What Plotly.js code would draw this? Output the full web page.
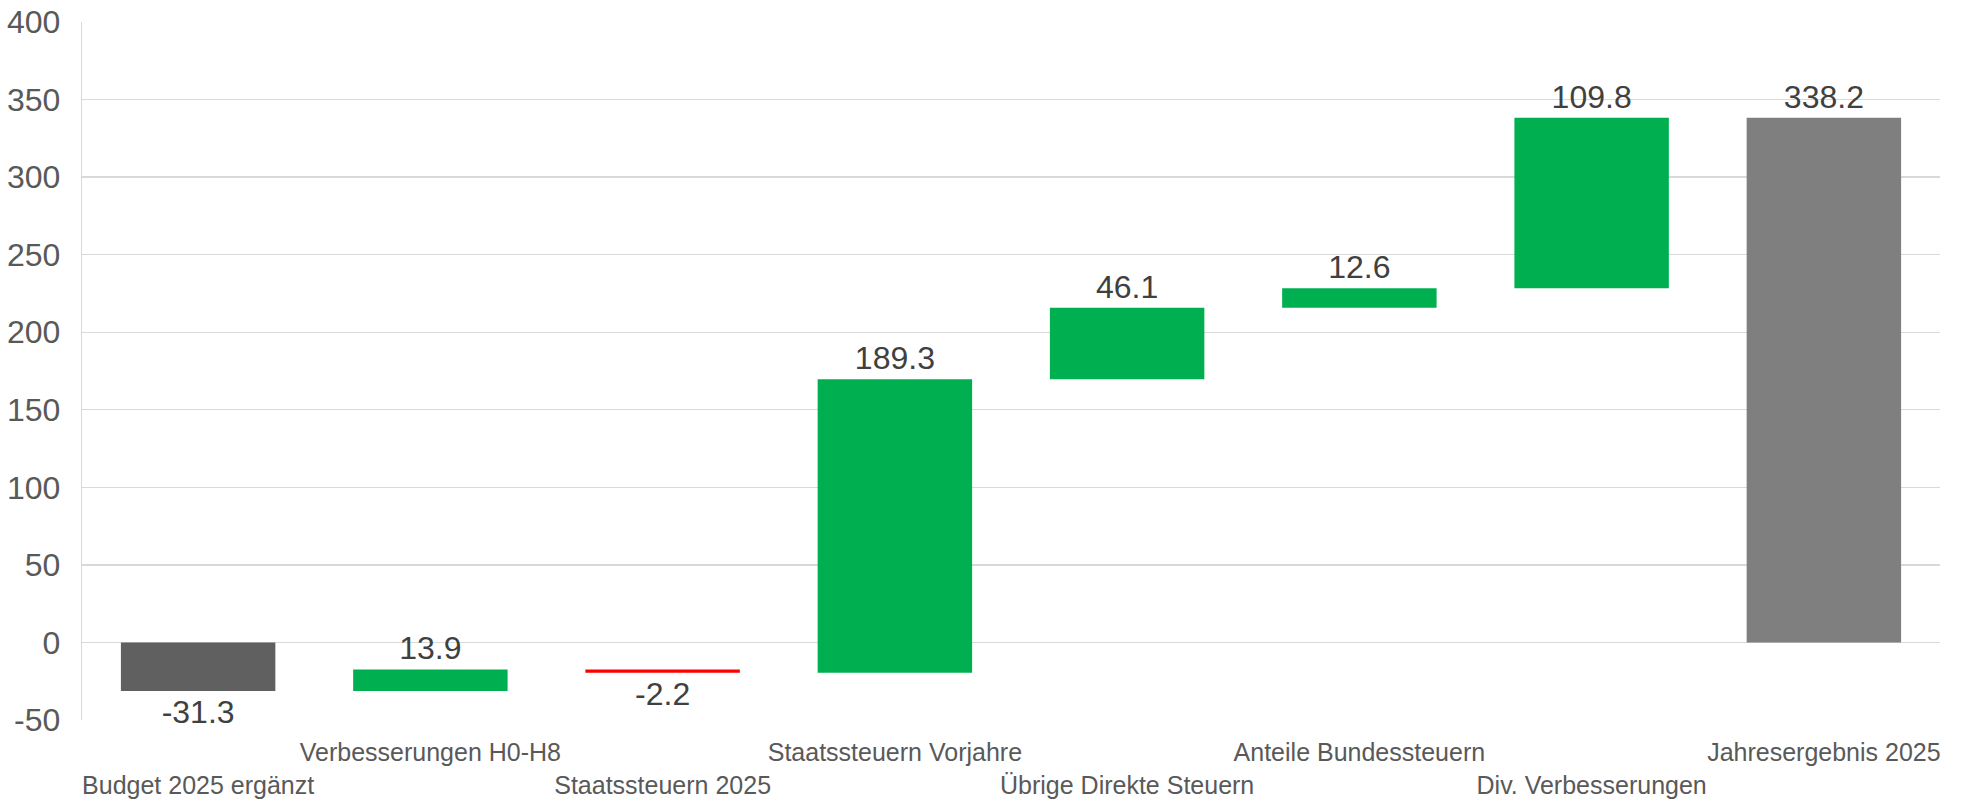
<!DOCTYPE html>
<html>
<head>
<meta charset="utf-8">
<script src="https://cdn.plot.ly/plotly-3.0.1.min.js"></script>
<style>html,body{margin:0;padding:0;background:#fff;}#chart{width:1961px;height:800px;}</style>
</head>
<body>
<div id="chart"></div>
<script>
var categories = ["Budget 2025 ergänzt","Verbesserungen H0-H8","Staatssteuern 2025","Staatssteuern Vorjahre","Übrige Direkte Steuern","Anteile Bundessteuern","Div. Verbesserungen","Jahresergebnis 2025"];
var values = [-31.3, 13.9, -2.2, 189.3, 46.1, 12.6, 109.8, 338.2];
var measures = ["absolute","relative","relative","relative","relative","relative","relative","total"];
var yTickVals = [-50, 0, 50, 100, 150, 200, 250, 300, 350, 400];
var yTickText = ["-50", "0", "50", "100", "150", "200", "250", "300", "350", "400"];

var colAbs = "#606060", colTot = "#7f7f7f", colUp = "#00b050", colDown = "#ff0000";

var bases = [], colors = [], running = 0;
for (var i = 0; i < values.length; i++) {
  if (measures[i] === "absolute") { bases.push(0); running = values[i]; colors.push(colAbs); }
  else if (measures[i] === "total") { bases.push(0); colors.push(colTot); }
  else { bases.push(running); running += values[i]; colors.push(values[i] >= 0 ? colUp : colDown); }
}
var ticktext = categories.map(function(c, i){ return i % 2 === 0 ? "<br>" + c : c; });
var x = categories.map(function(c, i){ return i; });

var trace = {
  type: "bar",
  x: x,
  y: values,
  base: bases,
  marker: {color: colors, line: {width: 0}},
  text: values.map(function(v){ return v.toFixed(1); }),
  textposition: "outside",
  constraintext: "none",
  cliponaxis: false,
  textfont: {family: "Liberation Sans, Arial, sans-serif", size: 32, color: "#404040"},
  hoverinfo: "none"
};

var layout = {
  width: 1961, height: 800,
  margin: {l: 82, r: 21, t: 22, b: 80},
  paper_bgcolor: "#fff", plot_bgcolor: "#fff",
  showlegend: false,
  bargap: 0.335,
  font: {family: "Liberation Sans, Arial, sans-serif", color: "#595959"},
  xaxis: {
    tickmode: "array", tickvals: x, ticktext: ticktext,
    range: [-0.5, 7.5],
    showgrid: false, zeroline: false, showline: false,
    ticks: "", ticklabelstandoff: 15,
    tickfont: {size: 25, color: "#595959"},
    tickangle: 0
  },
  yaxis: {
    range: [-50, 400], tickmode: "array", tickvals: yTickVals, ticktext: yTickText,
    showgrid: true, gridcolor: "#d9d9d9", gridwidth: 1.3,
    zeroline: false, showline: true, linecolor: "#d9d9d9", linewidth: 1.3,
    ticks: "", ticklabelstandoff: 14,
    tickfont: {size: 32, color: "#595959"}
  }
};

Plotly.newPlot("chart", [trace], layout, {staticPlot: true, displayModeBar: false});
</script>
</body>
</html>
